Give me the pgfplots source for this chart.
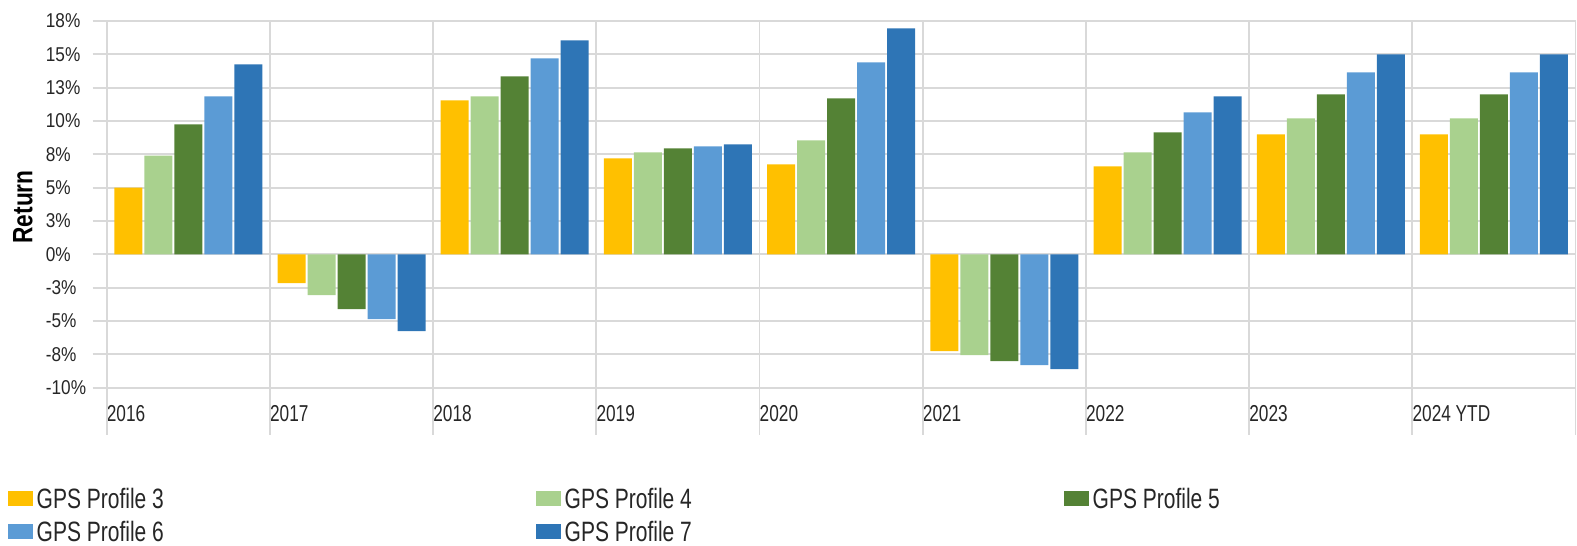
\documentclass[border=0pt]{standalone}
\usepackage{pgfplots}
\pgfplotsset{compat=1.18}
\usepackage{pgfplotstable}
\usepackage{fontspec}
\setmainfont{Liberation Sans}
\newfontfamily\tickyfont{Liberation Sans}[FakeStretch=0.86]
\newfontfamily\tickxfont{Liberation Sans}[FakeStretch=0.75]
\newfontfamily\legfont{Liberation Sans}[FakeStretch=0.75]
\newfontfamily\retfont{Liberation Sans}[FakeStretch=0.81]
\definecolor{cA}{HTML}{FFC000}
\definecolor{cB}{HTML}{A9D18E}
\definecolor{cC}{HTML}{548235}
\definecolor{cD}{HTML}{5B9BD5}
\definecolor{cE}{HTML}{2E75B6}
\definecolor{gridc}{HTML}{D9D9D9}
\definecolor{txt}{HTML}{262626}
\pgfplotstableread{
x  p3     p4     p5    p6     p7
0  5.0    7.4    9.75  11.85  14.25
1  -2.15  -3.05  -4.1  -4.85  -5.75
2  11.55  11.85  13.35 14.7   16.05
3  7.2    7.65   7.95  8.1    8.25
4  6.75   8.55   11.7  14.4   16.95
5  -7.25  -7.55  -8.0  -8.3   -8.6
6  6.6    7.65   9.15  10.65  11.85
7  9.0    10.2   12.0  13.65  15.0
8  9.0    10.2   12.0  13.65  15.0
}\datatable
\begin{document}
\begin{tikzpicture}
\path[use as bounding box] (-106.7pt,-158.3pt) rectangle (1470.3pt,387.7pt);
\begin{axis}[
  at={(0pt,0pt)}, anchor=south west,
  scale only axis, width=1469pt, height=366.7pt,
  xmin=-0.5, xmax=8.5, ymin=-10, ymax=17.5,
  clip=false,
  ybar=2pt, bar width=28pt,
  axis line style={gridc, line width=1.8pt},
  grid=major, grid style={gridc, line width=1.8pt},
  tick align=outside, major tick length=14pt,
  tick style={gridc, line width=1.8pt},
  xtick={-0.5,0.5,...,8.5}, xtick style={draw=none},
  xticklabels={2016,2017,2018,2019,2020,2021,2022,2023,2024 YTD,{}},
  xtick pos=bottom, ytick pos=left,
  ytick={-10,-7.5,...,17.5},
  yticklabels={-10\%,-8\%,-5\%,-3\%,0\%,3\%,5\%,8\%,10\%,13\%,15\%,18\%},
  xticklabel style={font=\tickxfont\fontsize{23}{27}\selectfont, text=txt, anchor=base west, inner sep=0pt, xshift=0pt, yshift=-19.3pt},
  yticklabel style={font=\tickyfont\fontsize{20}{24}\selectfont, text=txt, inner sep=0pt, anchor=west, xshift=-47pt},
  ylabel={Return},
  ylabel style={font=\retfont\bfseries\fontsize{28}{30}\selectfont, text=black, at={(axis description cs:-0.057,0.4928)}, anchor=center},
  legend columns=3,
  legend cell align=left,
  legend image code/.code={\fill[#1, draw=none] (0pt,-7.5pt) rectangle (25pt,7.5pt);},
  legend style={at={(-0.06705,-0.2572)}, anchor=north west, draw=none, fill=none,
    inner sep=0pt, outer sep=0pt, row sep=1.5pt,
    font=\legfont\fontsize{28}{30}\selectfont, text=txt,
    nodes={inner sep=0pt, text height=26pt, text depth=6pt},
    /tikz/every odd column/.append style={column sep=3.5pt},
    /tikz/every even column/.append style={text width=499.5pt, align=flush left}},
]
\addplot[fill=cA, draw=none] table[x=x, y=p3] {\datatable};
\addplot[fill=cB, draw=none] table[x=x, y=p4] {\datatable};
\addplot[fill=cC, draw=none] table[x=x, y=p5] {\datatable};
\addplot[fill=cD, draw=none] table[x=x, y=p6] {\datatable};
\addplot[fill=cE, draw=none] table[x=x, y=p7] {\datatable};
\legend{GPS Profile 3, GPS Profile 4, GPS Profile 5, GPS Profile 6, GPS Profile 7}
\draw[gridc, line width=1.8pt] (axis cs:-0.5,-10) -- ++(0pt,-47pt);
\draw[gridc, line width=1.8pt] (axis cs:0.5,-10) -- ++(0pt,-47pt);
\draw[gridc, line width=1.8pt] (axis cs:1.5,-10) -- ++(0pt,-47pt);
\draw[gridc, line width=1.8pt] (axis cs:2.5,-10) -- ++(0pt,-47pt);
\draw[gridc, line width=1.8pt] (axis cs:3.5,-10) -- ++(0pt,-47pt);
\draw[gridc, line width=1.8pt] (axis cs:4.5,-10) -- ++(0pt,-47pt);
\draw[gridc, line width=1.8pt] (axis cs:5.5,-10) -- ++(0pt,-47pt);
\draw[gridc, line width=1.8pt] (axis cs:6.5,-10) -- ++(0pt,-47pt);
\draw[gridc, line width=1.8pt] (axis cs:7.5,-10) -- ++(0pt,-47pt);
\draw[gridc, line width=1.8pt] (axis cs:8.5,-10) -- ++(0pt,-47pt);
\end{axis}
\end{tikzpicture}
\end{document}
